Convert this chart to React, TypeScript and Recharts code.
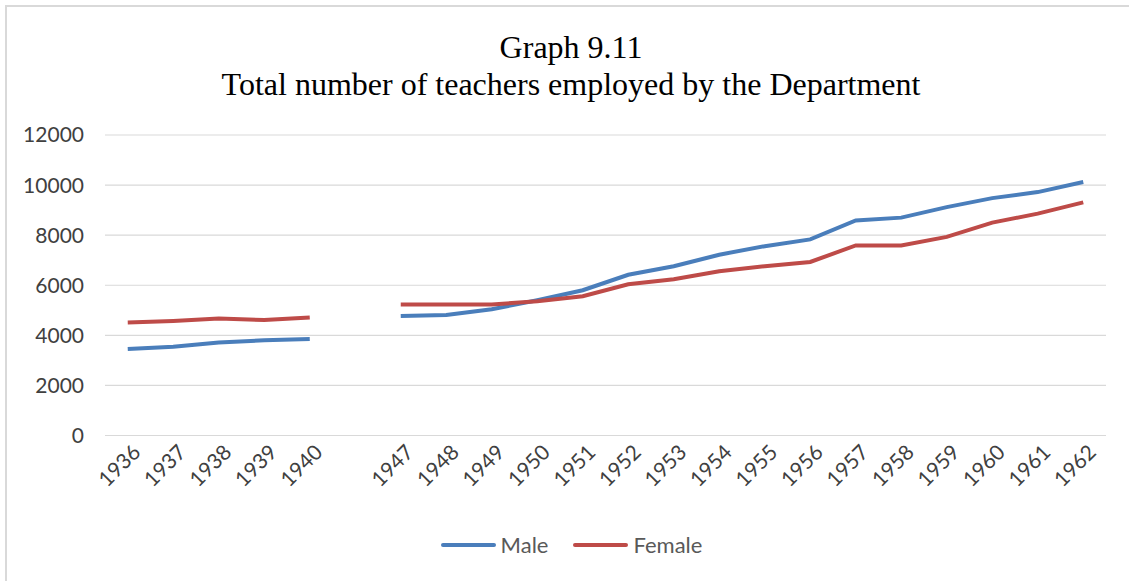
import { LineChart, Line, XAxis, YAxis, CartesianGrid, Legend } from "recharts";

// one empty category between 1940 and 1947 (war-years gap)
const years = ["1936", "1937", "1938", "1939", "1940", "", "1947", "1948", "1949", "1950", "1951", "1952", "1953", "1954", "1955", "1956", "1957", "1958", "1959", "1960", "1961", "1962"];
const male = [3450, 3540, 3710, 3800, 3850, null, 4770, 4810, 5040, 5400, 5800, 6420, 6760, 7220, 7560, 7830, 8590, 8700, 9120, 9480, 9720, 10120];
const female = [4510, 4570, 4670, 4610, 4710, null, 5230, 5230, 5230, 5360, 5560, 6040, 6240, 6560, 6760, 6930, 7590, 7590, 7930, 8500, 8860, 9310];
const yTicks = [0, 2000, 4000, 6000, 8000, 10000, 12000];

const data = years.map((year, i) => ({ year, male: male[i], female: female[i] }));

const SANS = "Lato, 'Open Sans', sans-serif";

function YearTick({ x, y, payload }: any) {
  const tx = x + 8;
  const ty = y + 12;
  return (
    <text
      x={tx}
      y={ty}
      transform={`rotate(-45, ${tx}, ${ty})`}
      textAnchor="end"
      dominantBaseline="central"
      fill="#404040"
      fontSize={21}
      fontFamily={SANS}
    >
      {payload.value}
    </text>
  );
}

function LegendBox() {
  const items = [
    { label: "Male", color: "#4A7EBB" },
    { label: "Female", color: "#BE4B48" },
  ];
  return (
    <div style={{ height: 24, display: "flex", justifyContent: "center", gap: 25, fontFamily: SANS, fontSize: 22, lineHeight: "24px", color: "#595959", paddingLeft: 12 }}>
      {items.map((it) => (
        <div key={it.label} style={{ display: "flex", alignItems: "center" }}>
          <span style={{ display: "inline-block", width: 55, height: 4, borderRadius: 2, background: it.color, marginRight: 5 }} />
          {it.label}
        </div>
      ))}
    </div>
  );
}

export default function App() {
  return (
    <div style={{ position: "absolute", left: 0, top: 0, width: 1129, height: 581, background: "#fff", overflow: "hidden" }}>
      <div style={{ position: "absolute", left: 5, top: 5, width: 1200, height: 700, borderLeft: "2px solid #d9d9d9", borderTop: "2px solid #d9d9d9" }} />
      <div
        style={{
          position: "absolute",
          left: 0,
          width: 1142,
          top: 29,
          textAlign: "center",
          fontFamily: "'Liberation Serif', 'Times New Roman', serif",
          fontSize: 32,
          lineHeight: "37px",
          color: "#000",
        }}
      >
        <div>Graph 9.11</div>
        <div>Total number of teachers employed by the Department</div>
      </div>
      <div style={{ position: "absolute", left: 0, top: 0 }}>
        <LineChart width={1129} height={581} data={data} margin={{ top: 135, right: 23, bottom: 61.5, left: 25 }}>
          <CartesianGrid vertical={false} stroke="#d9d9d9" strokeWidth={1.2} />
          <XAxis
            dataKey="year"
            interval={0}
            padding={{ left: 22.75, right: 22.75 }}
            axisLine={{ stroke: "#d9d9d9" }}
            tickLine={false}
            tickSize={0}
            tickMargin={0}
            tick={<YearTick />}
            height={60}
          />
          <YAxis
            width={80}
            domain={[0, 12000]}
            ticks={yTicks}
            axisLine={false}
            tickLine={false}
            tickSize={0}
            tickMargin={21}
            tick={{ fill: "#404040", fontSize: 21, fontFamily: SANS }}
          />
          <Legend verticalAlign="bottom" content={<LegendBox />} wrapperStyle={{ top: 533, bottom: "auto" }} />
          <Line dataKey="male" name="Male" stroke="#4A7EBB" strokeWidth={4} dot={false} isAnimationActive={false} connectNulls={false} />
          <Line dataKey="female" name="Female" stroke="#BE4B48" strokeWidth={4} dot={false} isAnimationActive={false} connectNulls={false} />
        </LineChart>
      </div>
    </div>
  );
}
